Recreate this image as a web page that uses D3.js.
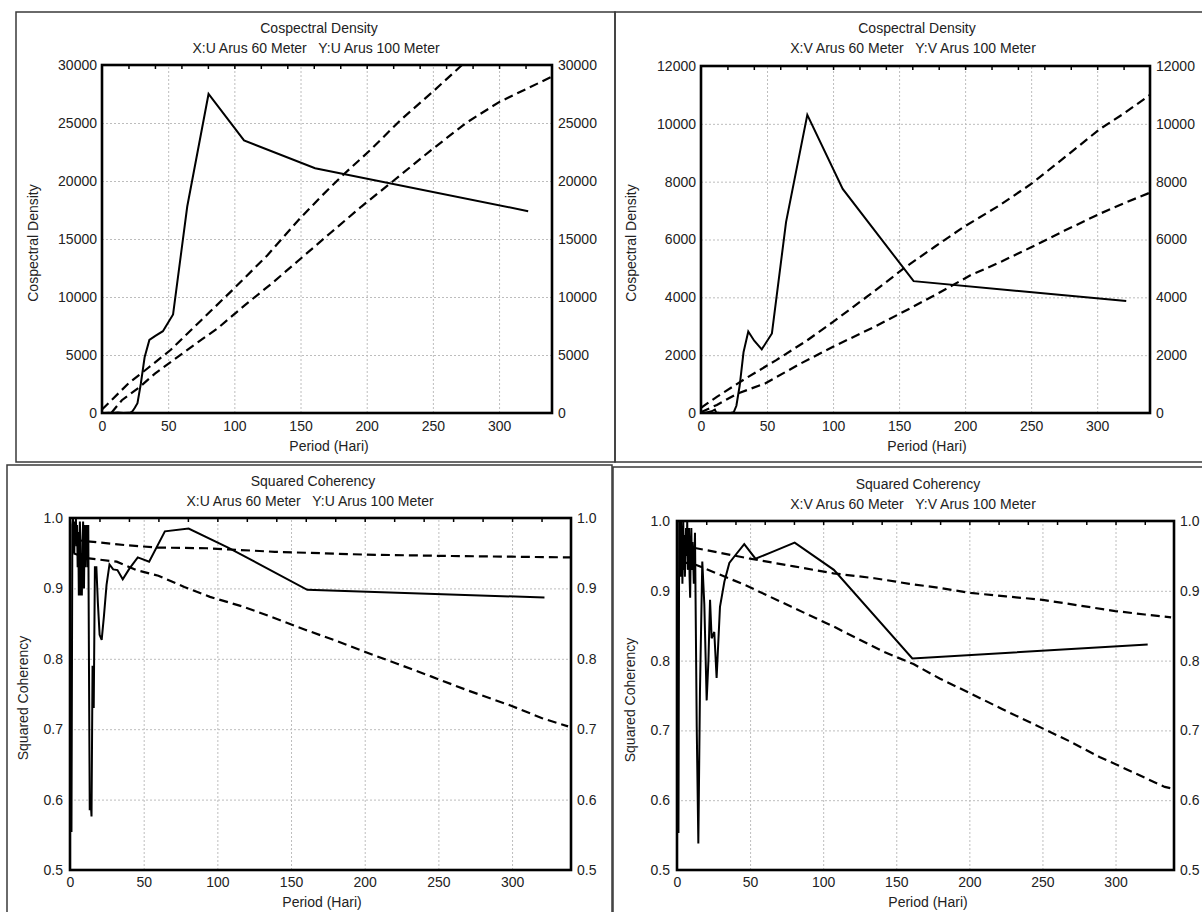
<!DOCTYPE html>
<html>
<head>
<meta charset="utf-8">
<script src="https://cdn.jsdelivr.net/npm/d3@7"></script>
<style>
  body { margin: 0; background: #fff; }
  text { font-family: "Liberation Sans", Arial, sans-serif; white-space: pre; }
</style>
</head>
<body>
<script>
// ---- data ----
const periodTicks = [0, 50, 100, 150, 200, 250, 300];
const cospecUTicks = [0, 5000, 10000, 15000, 20000, 25000, 30000];
const cospecVTicks = [0, 2000, 4000, 6000, 8000, 10000, 12000];
const cohTicks = [0.5, 0.6, 0.7, 0.8, 0.9, 1.0];

// Cospectral density, U component
const cospecUPeriod = [2, 5, 8, 12, 16.1, 20.1, 21.5, 23, 24.8, 26.8, 29.3, 32.2, 35.8, 40.3, 46, 53.7, 64.4, 80.5, 107.3, 161, 322];
const cospecUValue = [0, 20, 0, 40, 10, 30, 30, 150, 450, 850, 2500, 4800, 6300, 6650, 7050, 8500, 17800, 27500, 23500, 21100, 17400];
const cospecUUpperPeriod = [0, 20, 35, 52, 75, 99, 125, 149, 165, 181, 203, 226, 250, 272, 300, 340];
const cospecUUpperValue = [300, 2550, 3900, 5450, 8000, 10650, 13600, 16700, 18600, 20400, 22700, 25300, 27700, 30000, 32900, 37200];
const cospecULowerPeriod = [7, 15, 28.8, 40, 52.3, 70, 87.6, 108, 128.7, 150, 172.8, 196, 220, 248, 275, 300, 320, 340];
const cospecULowerValue = [0, 1100, 2270, 3400, 4430, 5900, 7320, 9300, 11210, 13300, 15540, 17800, 20000, 22600, 25000, 26800, 27900, 29000];

// Cospectral density, V component
const cospecVPeriod = [2, 5, 8, 10.5, 11.5, 14, 18, 21.5, 23, 24.8, 26.8, 29.3, 32.2, 35.8, 40.3, 46, 53.7, 64.4, 80.5, 107.3, 161, 322];
const cospecVValue = [0, 30, 60, 120, 20, 0, 0, 0, 10, 30, 250, 950, 2100, 2820, 2500, 2200, 2750, 6600, 10310, 7750, 4560, 3870];
const cospecVUpperPeriod = [0, 12, 34, 57, 80, 100, 128, 155, 177, 198.5, 225, 250, 277, 302, 320, 340];
const cospecVUpperValue = [180, 560, 1200, 1830, 2500, 3150, 4100, 5050, 5750, 6420, 7150, 7920, 8900, 9820, 10350, 11000];
const cospecVLowerPeriod = [0, 12, 28, 48.5, 75, 100, 130, 158, 180, 204, 228, 250, 275, 302, 320, 340];
const cospecVLowerValue = [30, 280, 680, 1020, 1700, 2290, 2950, 3610, 4150, 4760, 5250, 5730, 6300, 6890, 7250, 7620];

// Squared coherency, U component
const cohUPeriod = [1, 1.6, 2.0, 2.3, 2.6, 2.9, 3.2, 3.6, 4.0, 4.4, 4.8, 5.2, 5.6, 6.0, 6.4, 6.7, 7.0, 7.3, 7.7, 8.05, 8.3, 8.6, 8.9, 9.2, 9.5, 9.8, 10.1, 10.4, 10.7, 11.1, 11.5, 11.9, 12.4, 12.9, 13.4, 14.0, 14.6, 15.3, 16.1, 16.9, 17.9, 18.9, 20.1, 21.5, 23, 24.8, 26.8, 29.3, 32.2, 35.8, 40.3, 46, 53.7, 64.4, 80.5, 107.3, 161, 322];
const cohUValue = [0.554, 0.99, 1.0, 0.96, 0.995, 0.95, 0.99, 0.97, 1.0, 0.96, 0.99, 0.93, 0.98, 0.89, 0.95, 0.995, 0.97, 0.89, 0.95, 0.89, 0.93, 0.97, 0.995, 0.95, 0.9, 0.96, 0.99, 0.93, 0.985, 0.96, 0.99, 0.93, 0.99, 0.78, 0.585, 0.60, 0.576, 0.79, 0.73, 0.93, 0.93, 0.88, 0.834, 0.827, 0.86, 0.905, 0.934, 0.927, 0.926, 0.913, 0.928, 0.944, 0.938, 0.981, 0.985, 0.958, 0.898, 0.887];
const cohUUpperPeriod = [2.3, 11.3, 40, 59, 93, 139, 200, 259, 300, 340];
const cohUUpperValue = [0.969, 0.967, 0.961, 0.958, 0.957, 0.952, 0.948, 0.946, 0.945, 0.944];
const cohULowerPeriod = [2.3, 11.3, 31.7, 45, 60, 77.6, 95, 117.5, 140, 160, 180, 200, 222, 245, 270, 298.5, 320, 338];
const cohULowerValue = [0.950, 0.943, 0.938, 0.926, 0.918, 0.902, 0.888, 0.874, 0.857, 0.841, 0.826, 0.810, 0.793, 0.775, 0.755, 0.734, 0.716, 0.704];

// Squared coherency, V component
const cohVPeriod = [1, 1.5, 1.9, 2.2, 2.5, 2.8, 3.1, 3.4, 3.7, 4.0, 4.3, 4.6, 5.0, 5.4, 5.8, 6.2, 6.6, 7.0, 7.4, 7.8, 8.2, 8.6, 9.0, 9.4, 9.8, 10.2, 10.6, 11.0, 11.5, 12.3, 13.5, 14.6, 15.7, 17.3, 18.7, 20.3, 21.5, 22.6, 23.7, 25.5, 27.1, 29.4, 32.4, 35.8, 40.3, 46, 53.7, 64.4, 80.5, 107.3, 161, 322];
const cohVValue = [0.553, 1.0, 0.93, 0.99, 0.92, 1.0, 0.94, 0.99, 0.91, 0.97, 1.0, 0.93, 0.98, 0.92, 0.96, 0.99, 0.95, 1.0, 0.93, 0.97, 0.99, 0.92, 0.89, 0.96, 0.99, 0.93, 0.97, 0.95, 0.91, 0.983, 0.705, 0.538, 0.755, 0.942, 0.880, 0.743, 0.80, 0.887, 0.832, 0.841, 0.775, 0.877, 0.913, 0.94, 0.952, 0.967, 0.946, 0.955, 0.969, 0.930, 0.803, 0.823];
const cohVUpperPeriod = [2, 13.2, 50, 80, 107, 135, 159, 180, 200.8, 225, 250.3, 275, 299.8, 320, 338];
const cohVUpperValue = [0.962, 0.961, 0.946, 0.935, 0.925, 0.918, 0.910, 0.904, 0.897, 0.892, 0.887, 0.879, 0.871, 0.866, 0.862];
const cohVLowerPeriod = [2, 13.2, 47, 78.3, 107, 141, 161.8, 180, 200.8, 222, 245, 268, 289, 312, 333.7, 338];
const cohVLowerValue = [0.942, 0.937, 0.908, 0.877, 0.849, 0.813, 0.795, 0.774, 0.753, 0.731, 0.708, 0.685, 0.662, 0.640, 0.619, 0.617];

const W = 1202, H = 912;
const FS = 14;
const svg = d3.select("body").append("svg").attr("width", W).attr("height", H);

// window frames
const frames = [
  { x: 16, y: 12, w: 599, h: 450 },
  { x: 615, y: 12, w: 620, h: 450 },
  { x: 7, y: 465, w: 605, h: 500 },
  { x: 613, y: 467, w: 620, h: 500 }
];
svg.selectAll("rect.frame").data(frames).join("rect")
  .attr("class", "frame")
  .attr("x", d => d.x).attr("y", d => d.y)
  .attr("width", d => d.w).attr("height", d => d.h)
  .attr("fill", "none").attr("stroke", "#3a3a3a").attr("stroke-width", 1.5);

function pairs(xs, ys) { return xs.map((v, i) => [v, ys[i]]); }

function drawPanel(p, idx) {
  const g = svg.append("g");
  const x = d3.scaleLinear().domain([0, 340]).range([p.left, p.right]);
  const y = d3.scaleLinear().domain(p.yDomain).range([p.bottom, p.top]);
  const pw = p.right - p.left, ph = p.bottom - p.top;

  // dotted grid
  g.append("g").attr("transform", `translate(0,${p.bottom})`)
    .call(d3.axisBottom(x).tickValues(periodTicks.slice(1)).tickSize(-ph).tickFormat(""))
    .call(a => a.select(".domain").remove())
    .selectAll("line").attr("stroke", "#bdbdbd").attr("stroke-dasharray", "2,2");
  g.append("g").attr("transform", `translate(${p.left},0)`)
    .call(d3.axisLeft(y).tickValues(p.yTicks.slice(1, -1)).tickSize(-pw).tickFormat(""))
    .call(a => a.select(".domain").remove())
    .selectAll("line").attr("stroke", "#bdbdbd").attr("stroke-dasharray", "2,2");

  // small inward ticks on top border
  g.append("g").attr("transform", `translate(0,${p.top})`)
    .call(d3.axisTop(x).tickValues(d3.range(20, 340, 20)).tickSize(-4).tickFormat(""))
    .call(a => a.select(".domain").remove())
    .selectAll("line").attr("stroke", "#000").attr("stroke-width", 1.5);

  // tick labels
  const lab = sel => sel.selectAll("text")
    .attr("font-family", "'Liberation Sans', Arial, sans-serif")
    .attr("font-size", FS).attr("fill", "#222");
  g.append("g").attr("transform", `translate(0,${p.bottom})`)
    .call(d3.axisBottom(x).tickValues(periodTicks).tickSize(0).tickPadding(p.xPad))
    .call(a => a.select(".domain").remove())
    .call(lab);
  g.append("g").attr("transform", `translate(${p.left},0)`)
    .call(d3.axisLeft(y).tickValues(p.yTicks).tickSize(0).tickPadding(p.lPad).tickFormat(p.fmt))
    .call(a => a.select(".domain").remove())
    .call(lab);
  g.append("g").attr("transform", `translate(${p.right},0)`)
    .call(d3.axisRight(y).tickValues(p.yTicks).tickSize(0).tickPadding(p.rPad).tickFormat(p.fmt))
    .call(a => a.select(".domain").remove())
    .call(lab);

  // clip
  const cid = "clip" + idx;
  svg.append("clipPath").attr("id", cid).append("rect")
    .attr("x", p.left).attr("y", p.top).attr("width", pw).attr("height", ph);

  const line = d3.line().x(d => x(d[0])).y(d => y(d[1]));
  const series = g.append("g").attr("clip-path", `url(#${cid})`);
  p.dashed.forEach(s => {
    series.append("path").datum(s).attr("d", line)
      .attr("fill", "none").attr("stroke", "#000").attr("stroke-width", 2.2)
      .attr("stroke-dasharray", "9,5");
  });
  series.append("path").datum(p.solid).attr("d", line)
    .attr("fill", "none").attr("stroke", "#000").attr("stroke-width", 2)
    .attr("stroke-linejoin", "miter");

  // plot border
  g.append("rect").attr("x", p.left).attr("y", p.top).attr("width", pw).attr("height", ph)
    .attr("fill", "none").attr("stroke", "#000").attr("stroke-width", 2.6);

  // titles
  const t = (tx, ty, str, rot) => {
    const e = g.append("text").attr("text-anchor", "middle").attr("font-size", FS)
      .attr("fill", "#222").attr("dominant-baseline", "middle").text(str);
    if (rot) e.attr("transform", `translate(${tx},${ty}) rotate(-90)`);
    else e.attr("x", tx).attr("y", ty);
  };
  t(p.titleX, p.titleY, p.title);
  t(p.subX, p.titleY + 20, p.sub);
  t(p.xTitleX, p.xTitleY, "Period (Hari)");
  t(p.yTitleX, p.yTitleY, p.yTitle, true);
}

const panels = [
  {
    left: 102, right: 552, top: 65, bottom: 413,
    yDomain: [0, 30000], yTicks: cospecUTicks, fmt: d3.format("d"),
    xPad: 8, lPad: 5, rPad: 6,
    title: "Cospectral Density", sub: "X:U Arus 60 Meter   Y:U Arus 100 Meter",
    titleX: 319, subX: 316, titleY: 29, xTitleX: 329, xTitleY: 447,
    yTitle: "Cospectral Density", yTitleX: 34, yTitleY: 243,
    solid: pairs(cospecUPeriod, cospecUValue),
    dashed: [pairs(cospecUUpperPeriod, cospecUUpperValue), pairs(cospecULowerPeriod, cospecULowerValue)]
  },
  {
    left: 701, right: 1150, top: 66, bottom: 413,
    yDomain: [0, 12000], yTicks: cospecVTicks, fmt: d3.format("d"),
    xPad: 8, lPad: 5, rPad: 6,
    title: "Cospectral Density", sub: "X:V Arus 60 Meter   Y:V Arus 100 Meter",
    titleX: 917, subX: 913, titleY: 29, xTitleX: 927, xTitleY: 447,
    yTitle: "Cospectral Density", yTitleX: 632, yTitleY: 243,
    solid: pairs(cospecVPeriod, cospecVValue),
    dashed: [pairs(cospecVUpperPeriod, cospecVUpperValue), pairs(cospecVLowerPeriod, cospecVLowerValue)]
  },
  {
    left: 70, right: 571, top: 518, bottom: 870,
    yDomain: [0.5, 1.0], yTicks: cohTicks, fmt: d3.format(".1f"),
    xPad: 7, lPad: 7, rPad: 6,
    title: "Squared Coherency", sub: "X:U Arus 60 Meter   Y:U Arus 100 Meter",
    titleX: 313, subX: 310, titleY: 482, xTitleX: 322, xTitleY: 903,
    yTitle: "Squared Coherency", yTitleX: 24, yTitleY: 698,
    solid: pairs(cohUPeriod, cohUValue),
    dashed: [pairs(cohUUpperPeriod, cohUUpperValue), pairs(cohULowerPeriod, cohULowerValue)]
  },
  {
    left: 677, right: 1174, top: 521, bottom: 870,
    yDomain: [0.5, 1.0], yTicks: cohTicks, fmt: d3.format(".1f"),
    xPad: 7, lPad: 7, rPad: 6,
    title: "Squared Coherency", sub: "X:V Arus 60 Meter   Y:V Arus 100 Meter",
    titleX: 918, subX: 913, titleY: 485, xTitleX: 928, xTitleY: 903,
    yTitle: "Squared Coherency", yTitleX: 631, yTitleY: 700,
    solid: pairs(cohVPeriod, cohVValue),
    dashed: [pairs(cohVUpperPeriod, cohVUpperValue), pairs(cohVLowerPeriod, cohVLowerValue)]
  }
];

panels.forEach(drawPanel);
</script>
</body>
</html>
